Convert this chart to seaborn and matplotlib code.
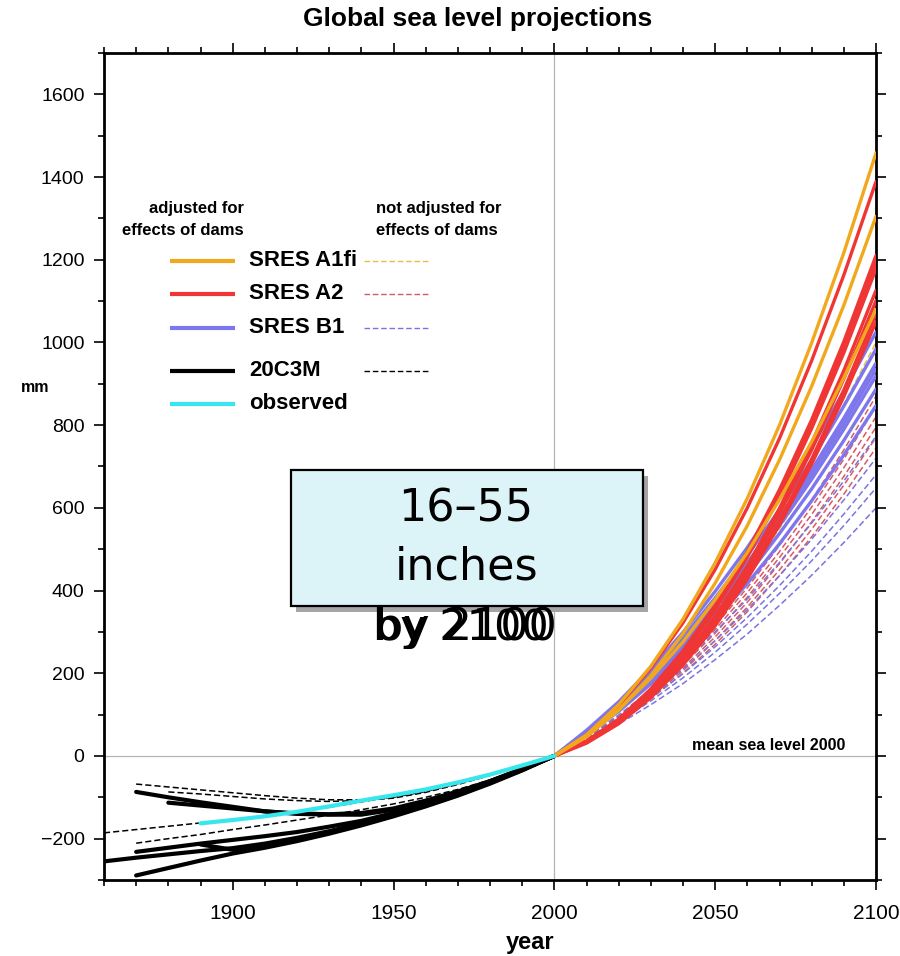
import numpy as np
import pandas as pd
import matplotlib
matplotlib.use("Agg")
import matplotlib.pyplot as plt
import matplotlib.transforms as mtransforms
from matplotlib.patches import Rectangle
from matplotlib.ticker import MultipleLocator, FixedLocator
import seaborn as sns

# ---------------- data ----------------
proj_years = [2000, 2010, 2020, 2030, 2040, 2050, 2060, 2070, 2080, 2090, 2100]

a1fi_adjusted = [
    [0, 51, 124, 217, 331, 467, 623, 800, 999, 1217, 1458],
    [0, 46, 111, 194, 296, 418, 557, 716, 894, 1090, 1305],
    [0, 50, 112, 188, 276, 378, 492, 620, 760, 914, 1080],
]
a2_adjusted = [
    [0, 51, 122, 213, 322, 451, 600, 768, 956, 1163, 1389],
    [0, 36, 89, 162, 254, 364, 494, 644, 813, 1002, 1210],
    [0, 35, 88, 160, 250, 359, 488, 636, 803, 989, 1195],
    [0, 35, 87, 158, 246, 353, 481, 627, 792, 975, 1178],
    [0, 34, 83, 151, 236, 338, 459, 599, 757, 932, 1126],
    [0, 33, 81, 147, 230, 330, 449, 586, 740, 912, 1101],
    [0, 32, 79, 143, 224, 321, 436, 569, 718, 885, 1069],
    [0, 31, 78, 141, 220, 315, 428, 559, 706, 869, 1050],
]
b1_adjusted = [
    [0, 62, 131, 211, 299, 398, 504, 621, 746, 882, 1025],
    [0, 59, 126, 203, 287, 382, 484, 596, 716, 846, 984],
    [0, 57, 122, 196, 277, 369, 467, 576, 692, 817, 950],
    [0, 56, 120, 193, 273, 363, 460, 567, 681, 804, 935],
    [0, 55, 118, 189, 268, 357, 452, 557, 669, 790, 919],
    [0, 53, 114, 183, 259, 344, 436, 538, 646, 763, 887],
    [0, 51, 108, 174, 247, 329, 417, 513, 617, 728, 847],
]
a1fi_unadjusted = [
    [0, 50, 112, 185, 268, 363, 468, 585, 712, 850, 1000],
    [0, 47, 105, 174, 252, 341, 440, 550, 669, 799, 940],
]
a2_unadjusted = [
    [0, 44, 97, 161, 233, 315, 407, 509, 619, 740, 870],
    [0, 42, 95, 156, 226, 306, 395, 494, 602, 718, 845],
    [0, 41, 92, 152, 220, 297, 384, 480, 584, 697, 820],
    [0, 40, 89, 147, 213, 288, 372, 465, 566, 676, 795],
    [0, 39, 86, 142, 206, 279, 360, 450, 548, 655, 770],
    [0, 37, 83, 138, 200, 270, 349, 436, 530, 633, 745],
]
b1_unadjusted = [
    [0, 46, 99, 159, 226, 300, 380, 468, 563, 665, 773],
    [0, 43, 92, 148, 210, 279, 354, 436, 524, 619, 720],
    [0, 41, 87, 140, 199, 264, 335, 412, 495, 585, 680],
    [0, 39, 83, 133, 189, 251, 319, 393, 472, 557, 648],
    [0, 36, 77, 124, 175, 233, 295, 364, 437, 516, 600],
]

nan = np.nan
hist_years = [1860, 1870, 1880, 1890, 1900, 1910, 1920, 1930, 1940, 1950,
              1960, 1970, 1980, 1990, 2000]
c20_adjusted = [
    [nan, -87, -100, -112, -123, -134, -140, -142, -142, -130, -110, -88, -62, -33, 0],
    [nan, nan, -113, -120, -127, -134, -139, -141, -138, -127, -108, -86, -61, -32, 0],
    [-255, -246, -238, -230, -223, -212, -198, -182, -163, -142, -118, -92, -64, -33, 0],
    [nan, -289, -271, -253, -236, -222, -206, -188, -168, -146, -122, -96, -67, -35, 0],
    [nan, -232, -222, -212, -203, -194, -184, -171, -157, -138, -115, -89, -61, -31, 0],
    [nan, nan, nan, -214, -227, -217, -201, -184, -165, -144, -120, -94, -65, -34, 0],
]
c20_unadjusted = [
    [nan, -68, -75, -82, -89, -96, -102, -106, -106, -100, -86, -67, -46, -24, 0],
    [nan, nan, -87, -92, -98, -104, -108, -110, -108, -102, -88, -69, -47, -25, 0],
    [-186, -178, -170, -162, -155, -146, -136, -124, -111, -98, -83, -65, -45, -23, 0],
    [nan, -211, -200, -190, -178, -167, -155, -143, -130, -116, -100, -81, -58, -31, 0],
]
observed = [nan, nan, nan, -163, -155, -146, -135, -122, -108, -95, -81, -64, -45, -23, 0]

legend_labels = ["SRES A1fi", "SRES A2", "SRES B1", "20C3M", "observed"]
x_ticks = [1900, 1950, 2000, 2050, 2100]
y_ticks = [-200, 0, 200, 400, 600, 800, 1000, 1200, 1400, 1600]

# ---------------- style ----------------
C_ORANGE = "#f2a81d"
C_RED = "#f03535"
C_BLUE = "#7e76ec"
C_CYAN = "#38e6ee"
C_DYEL = "#e2c04a"
C_DRED = "#d65a64"
C_DBLUE = "#7a74de"
C_BLACK = "#000000"

sns.set_theme(style="ticks")
plt.rcParams["font.family"] = ["Liberation Sans", "DejaVu Sans"]
plt.rcParams["axes.edgecolor"] = "black"
plt.rcParams["xtick.color"] = "black"
plt.rcParams["ytick.color"] = "black"
plt.rcParams["text.color"] = "black"

fig = plt.figure(figsize=(9, 9.56), dpi=100)
ax = fig.add_axes([104 / 900, 1 - 880 / 956, 772 / 900, 827 / 956])
ax.set_facecolor("white")

DASH = (0, (4, 2))


def draw(x, y, color, lw, ls="-", z=2):
    sns.lineplot(x=x, y=y, ax=ax, color=color, linewidth=lw, linestyle=ls,
                 estimator=None, sort=False, zorder=z, legend=False)


# reference lines
ax.axhline(0, color="#b4b4b4", lw=0.9, zorder=1)
ax.axvline(2000, color="#b4b4b4", lw=0.9, zorder=1)

# unadjusted (dashed)
for v in a2_unadjusted:
    draw(proj_years, v, C_DRED, 1.1, DASH, 2)
for v in b1_unadjusted:
    draw(proj_years, v, C_DBLUE, 1.1, DASH, 2)
for v in a1fi_unadjusted:
    draw(proj_years, v, C_DYEL, 1.1, DASH, 2)
for v in c20_unadjusted:
    draw(hist_years, v, C_BLACK, 1.1, DASH, 2)

# adjusted (solid)
for v in b1_adjusted:
    draw(proj_years, v, C_BLUE, 2.4, "-", 3)
for v in a2_adjusted:
    draw(proj_years, v, C_RED, 2.4, "-", 4)
for v in a1fi_adjusted:
    draw(proj_years, v, C_ORANGE, 2.4, "-", 5)
for v in c20_adjusted:
    draw(hist_years, v, C_BLACK, 3.0, "-", 3)
draw(hist_years, observed, C_CYAN, 3.0, "-", 6)

# axes
ax.set_xlim(1860, 2100)
ax.set_ylim(-300, 1700)
ax.xaxis.set_major_locator(FixedLocator(x_ticks))
ax.xaxis.set_minor_locator(MultipleLocator(10))
ax.yaxis.set_major_locator(FixedLocator(y_ticks))
ax.yaxis.set_minor_locator(MultipleLocator(100))
ax.tick_params(which="both", direction="out", top=True, right=True,
               labeltop=False, labelright=False, width=1.2, color="black")
ax.tick_params(which="major", length=7)
ax.tick_params(which="minor", length=4)
ax.tick_params(axis="x", which="major", labelsize=15, pad=10)
ax.tick_params(axis="y", which="major", labelsize=14, pad=7)
for s in ax.spines.values():
    s.set_visible(True)
    s.set_linewidth(2.0)
    s.set_color("black")
ax.set_xlabel("")
ax.set_ylabel("")
ax.grid(False)

# titles / labels
fig.text(478 / 900, 1 - 19 / 956, "Global sea level projections", ha="center",
         va="center", fontsize=19, fontweight="bold")
fig.text(530 / 900, 1 - 943 / 956, "year", ha="center", va="center",
         fontsize=17, fontweight="bold")
fig.text(35 / 900, 1 - 388 / 956, "mm", ha="center", va="center",
         fontsize=11.5, fontweight="bold")

# legend (manual)
T = ax.transAxes
ax.text(0.1813, 0.8118, "adjusted for", transform=T, ha="right", va="center",
        fontsize=12, fontweight="bold")
ax.text(0.1813, 0.7851, "effects of dams", transform=T, ha="right", va="center",
        fontsize=12, fontweight="bold")
ax.text(0.3523, 0.8118, "not adjusted for", transform=T, ha="left", va="center",
        fontsize=12, fontweight="bold")
ax.text(0.3523, 0.7851, "effects of dams", transform=T, ha="left", va="center",
        fontsize=12, fontweight="bold")
rows = [0.7485, 0.7086, 0.6675, 0.6155, 0.5756]
solid_cols = [C_ORANGE, C_RED, C_BLUE, C_BLACK, C_CYAN]
dash_cols = [C_DYEL, C_DRED, C_DBLUE, C_BLACK, None]
for lab, yr, sc, dc in zip(legend_labels, rows, solid_cols, dash_cols):
    ax.plot([0.0861, 0.1697], [yr, yr], transform=T, color=sc, lw=3.0,
            solid_capstyle="butt", zorder=7)
    ax.text(0.1878, yr, lab, transform=T, ha="left", va="center",
            fontsize=16, fontweight="bold", zorder=7)
    if dc is not None:
        ax.plot([0.3368, 0.4229], [yr, yr], transform=T, color=dc, lw=1.0,
                linestyle=DASH, zorder=7)

# mean sea level label
ax.text(0.960, 0.157, "mean sea level 2000", transform=T, ha="right",
        va="baseline", fontsize=11.5, fontweight="bold", zorder=7)

# callout box with shadow
bx0, bx1, by0, by1 = 0.2418, 0.6978, 0.3317, 0.4958
shadow = Rectangle((bx0 + 0.0065, by0 - 0.0073), bx1 - bx0, by1 - by0,
                   transform=T, facecolor="#a5a5a5", edgecolor="none", zorder=8)
box = Rectangle((bx0, by0), bx1 - bx0, by1 - by0, transform=T,
                facecolor="#dcf3f8", edgecolor="black", lw=1.6, zorder=9)
ax.add_patch(shadow)
ax.add_patch(box)
cx = 0.469
ax.text(cx, 0.4333, "16\u201355", transform=T, ha="center", va="baseline",
        fontsize=32, family="DejaVu Sans", zorder=10)
ax.text(cx, 0.3628, "inches", transform=T, ha="center", va="baseline",
        fontsize=32, family="DejaVu Sans", zorder=10)
ax.text(cx, 0.2902, "by 2100", transform=T, ha="center", va="baseline",
        fontsize=32, family="DejaVu Sans", zorder=10)
off = mtransforms.offset_copy(T, fig=fig, x=-5, y=0, units="dots")
ax.text(cx, 0.2902, "by 2100", transform=off, ha="center", va="baseline",
        fontsize=31, family="DejaVu Sans", zorder=10)

fig.savefig("out.png", dpi=100, facecolor="white")
